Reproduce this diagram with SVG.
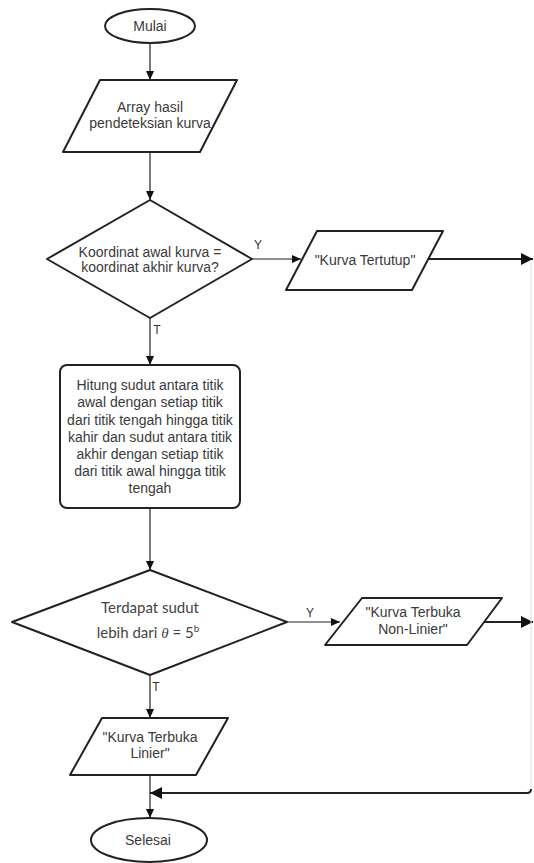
<svg xmlns="http://www.w3.org/2000/svg" width="534" height="863" viewBox="0 0 534 863">
<defs>
<style>
.n{fill:#fff;stroke:#222;stroke-width:2;stroke-linejoin:round}
.t{font-family:"Liberation Sans",Arial,sans-serif;font-size:14px;fill:#3a3a3a;text-anchor:middle}
.c{font-family:Lato,"Open Sans",sans-serif;font-size:15px;fill:#444;text-anchor:middle}
.l{font-family:"Liberation Sans",Arial,sans-serif;font-size:12px;fill:#333;text-anchor:middle}
.e{fill:none;stroke:#222;stroke-width:1.2}
.thick{fill:none;stroke:#222;stroke-width:2}
</style>
<marker id="a" markerUnits="userSpaceOnUse" markerWidth="10" markerHeight="10" refX="9" refY="4" orient="auto">
<path d="M0,0 L9,4 L0,8 z" fill="#111"/>
</marker>
<marker id="b" markerUnits="userSpaceOnUse" markerWidth="14" markerHeight="14" refX="12" refY="6" orient="auto">
<path d="M0,0 L12,6 L0,12 z" fill="#111"/>
</marker>
</defs>

<g id="connectors">
<path class="e" d="M150,43 V80" marker-end="url(#a)"/>
<path class="e" d="M150,152 V200" marker-end="url(#a)"/>
<path class="e" d="M252,259 H301" marker-end="url(#a)"/>
<path class="e" d="M150,318 V365" marker-end="url(#a)"/>
<path class="e" d="M150,508 V570" marker-end="url(#a)"/>
<path class="e" d="M287,622 H340" marker-end="url(#a)"/>
<path class="e" d="M150,675 V718" marker-end="url(#a)"/>
<path class="e" d="M150,775 V818" marker-end="url(#a)"/>
<path class="thick" d="M428,259 H533" marker-end="url(#b)"/>
<path class="thick" d="M484,622 H533" marker-end="url(#b)"/>
<path d="M531,262 V789" fill="none" stroke="#ddd" stroke-width="1"/>
<path class="thick" d="M531,789 Q531,793 527,793 H150" marker-end="url(#b)"/>
<text class="l" x="258" y="249">Y</text>
<text class="l" x="157" y="334">T</text>
<text class="l" x="310" y="617">Y</text>
<text class="l" x="156" y="691">T</text>
</g>

<g id="mulai">
<ellipse class="n" cx="150" cy="26" rx="45" ry="17"/>
<text class="t" x="150" y="31">Mulai</text>
</g>

<g id="array">
<path class="n" d="M100,80 H237 L200,152 H63 Z"/>
<text class="t" x="150" y="112">Array hasil</text>
<text class="t" x="150" y="128">pendeteksian kurva</text>
</g>

<g id="cek-koordinat">
<path class="n" d="M150,200 L252,259 L150,318 L47,259 Z"/>
<text class="t" x="150" y="257">Koordinat awal kurva =</text>
<text class="t" x="150" y="272">koordinat akhir kurva?</text>
</g>

<g id="kurva-tertutup">
<path class="n" d="M317,231 H443 L412,290 H286 Z"/>
<text class="t" x="365" y="265">"Kurva Tertutup"</text>
</g>

<g id="hitung">
<rect class="n" x="60" y="365" width="180" height="143" rx="7"/>
<text class="t" x="150" y="390">Hitung sudut antara titik</text>
<text class="t" x="150" y="407">awal dengan setiap titik</text>
<text class="t" x="150" y="425">dari titik tengah hingga titik</text>
<text class="t" x="150" y="442">kahir dan sudut antara titik</text>
<text class="t" x="150" y="459">akhir dengan setiap titik</text>
<text class="t" x="150" y="476">dari titik awal hingga titik</text>
<text class="t" x="150" y="493">tengah</text>
</g>

<g id="cek-sudut">
<path class="n" d="M150,570 L287,622 L150,675 L12,622 Z"/>
<text class="c" x="150" y="613">Terdapat sudut</text>
<text class="c" x="148" y="638">lebih dari <tspan font-family="'Liberation Serif',serif" font-style="italic">θ</tspan> = 5<tspan font-size="10" dy="-6">b</tspan></text>
</g>

<g id="kurva-terbuka-nonlinier">
<path class="n" d="M362,598 H502 L467,645 H325 Z"/>
<text class="t" x="413" y="617">"Kurva Terbuka</text>
<text class="t" x="413" y="634">Non-Linier"</text>
</g>

<g id="kurva-terbuka-linier">
<path class="n" d="M102,718 H228 L196,775 H70 Z"/>
<text class="t" x="150" y="742">"Kurva Terbuka</text>
<text class="t" x="150" y="758">Linier"</text>
</g>

<g id="selesai">
<ellipse class="n" cx="149" cy="840" rx="58" ry="22"/>
<text class="t" x="148" y="845">Selesai</text>
</g>
</svg>
